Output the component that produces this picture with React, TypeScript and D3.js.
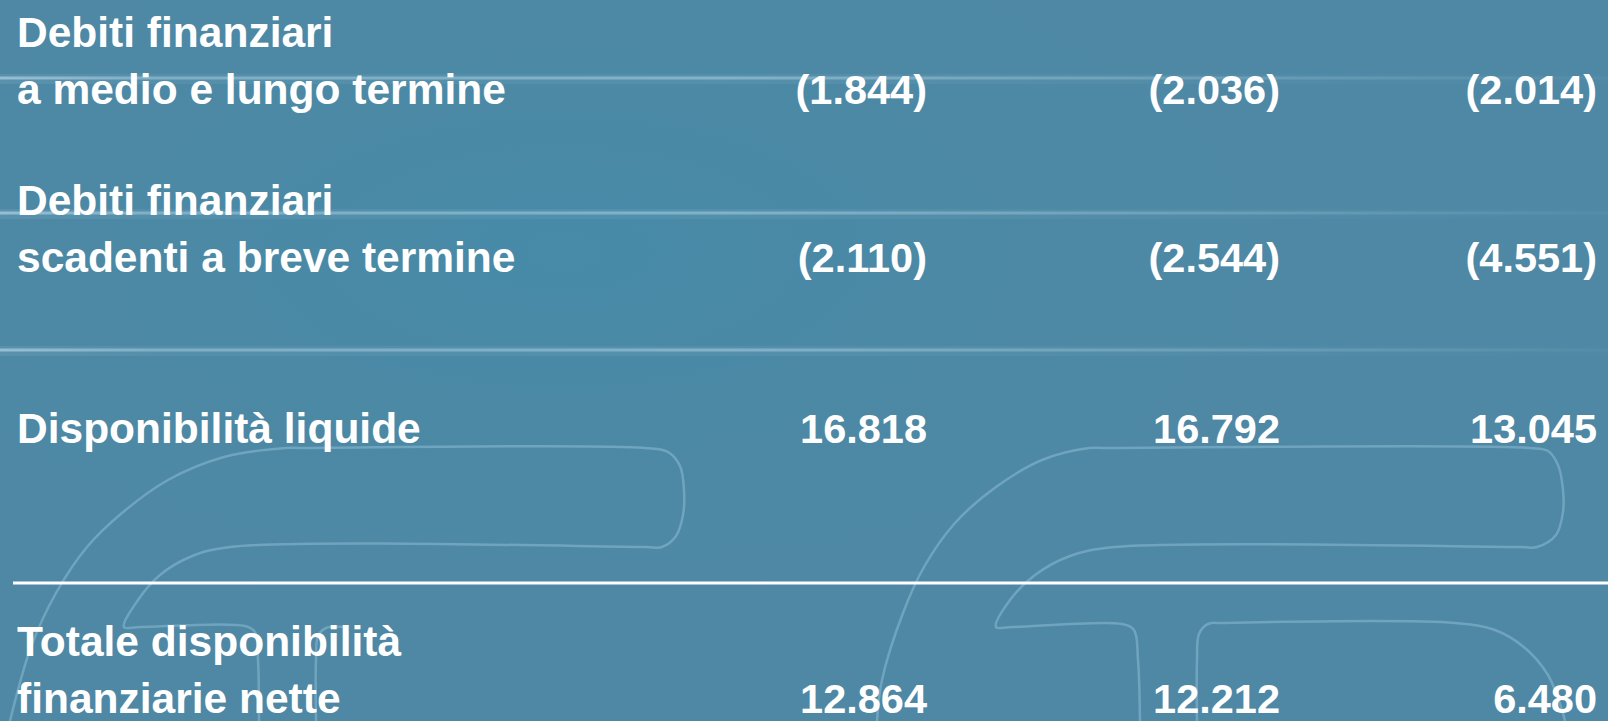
import React, { useEffect, useRef } from 'react'
import { select, scaleOrdinal, formatLocale, line, curveCatmullRom, Selection } from 'd3'

// rows of the table (label lines) and the three value columns
const ROW_LABELS: string[][] = [
  ['Debiti finanziari', 'a medio e lungo termine'],
  ['Debiti finanziari', 'scadenti a breve termine'],
  ['Disponibilità liquide'],
  ['Totale disponibilità', 'finanziarie nette'],
]
const COLUMNS = ['col1', 'col2', 'col3']
const COL1_VALUES = [-1844, -2110, 16818, 12864]
const COL2_VALUES = [-2036, -2544, 16792, 12212]
const COL3_VALUES = [-2014, -4551, 13045, 6480]

const WIDTH = 1608
const HEIGHT = 721
const BG = '#4e88a4'
const LINE_H = 57

const itLocale = formatLocale({ decimal: ',', thousands: '.', grouping: [3], currency: ['€', ''] })
const fmt = itLocale.format('(,')

type Pt = [number, number]

// decorative logo outlines in the background
const LOGO_PATHS: Pt[][] = [
  [
    [10, 721], [31, 647], [56, 593], [87, 547], [122, 513], [168, 480], [224, 457], [286, 448], [300, 448],
    [645, 448], [668, 452], [680, 466], [684, 490], [683, 515], [676, 536], [662, 547], [645, 547],
    [230, 547], [190, 557], [160, 575], [138, 600], [124, 627], [140, 627], [245, 626], [255, 632], [258, 660], [259, 721],
  ],
  [[316, 721], [316, 660], [318, 636], [326, 628], [345, 627]],
  [
    [877, 721], [882, 680], [903, 613], [924, 567], [955, 523], [996, 487], [1042, 460], [1089, 448], [1105, 448],
    [1530, 448], [1548, 451], [1558, 465], [1563, 490], [1563, 512], [1556, 535], [1537, 547], [1520, 547],
    [1115, 547], [1070, 556], [1035, 575], [1010, 600], [996, 627], [1012, 627], [1122, 624], [1134, 630], [1138, 660], [1140, 721],
  ],
  [
    [1197, 721], [1197, 660], [1199, 634], [1208, 624], [1225, 623], [1455, 623], [1495, 630], [1525, 648], [1548, 675], [1562, 710], [1565, 721],
  ],
]

const STREAK_YS = [78, 213, 350]

export default function App(): JSX.Element {
  const svgRef = useRef<SVGSVGElement | null>(null)

  function drawBackground(svg: Selection<SVGSVGElement | null, any, null, undefined>): void {
    const defs = svg.append('defs')

    const glow = defs
      .append('radialGradient')
      .attr('id', 'bgGlow')
      .attr('cx', 0.35)
      .attr('cy', 0.35)
      .attr('r', 0.55)
    glow.append('stop').attr('offset', 0).attr('stop-color', '#458ba8').attr('stop-opacity', 0.9)
    glow.append('stop').attr('offset', 1).attr('stop-color', BG).attr('stop-opacity', 0)

    const streak = defs.append('linearGradient').attr('id', 'streak')
    streak.append('stop').attr('offset', 0).attr('stop-color', '#a9cde0').attr('stop-opacity', 0.75)
    streak.append('stop').attr('offset', 0.1).attr('stop-color', '#a9cde0').attr('stop-opacity', 0.5)
    streak.append('stop').attr('offset', 0.45).attr('stop-color', '#a9cde0').attr('stop-opacity', 0.55)
    streak.append('stop').attr('offset', 0.8).attr('stop-color', '#a9cde0').attr('stop-opacity', 0.25)
    streak.append('stop').attr('offset', 1).attr('stop-color', '#a9cde0').attr('stop-opacity', 0.05)

    svg.append('rect').attr('width', WIDTH).attr('height', HEIGHT).attr('fill', BG)
    svg.append('rect').attr('width', WIDTH).attr('height', HEIGHT).attr('fill', 'url(#bgGlow)')

    const g = svg.append('g').attr('class', 'streaks')
    g.selectAll('rect.soft')
      .data(STREAK_YS)
      .join('rect')
      .attr('class', 'soft')
      .attr('x', 0)
      .attr('y', (d) => d - 4)
      .attr('width', WIDTH)
      .attr('height', 10)
      .attr('fill', 'url(#streak)')
      .attr('opacity', 0.18)
    g.selectAll('rect.hard')
      .data(STREAK_YS)
      .join('rect')
      .attr('class', 'hard')
      .attr('x', 0)
      .attr('y', (d) => d - 1.5)
      .attr('width', WIDTH)
      .attr('height', 3)
      .attr('fill', 'url(#streak)')

    const lineFn = line<Pt>()
      .x((d) => d[0])
      .y((d) => d[1])
      .curve(curveCatmullRom.alpha(0.5))

    svg
      .append('g')
      .attr('class', 'logo')
      .selectAll('path')
      .data(LOGO_PATHS)
      .join('path')
      .attr('d', (d) => lineFn(d))
      .attr('fill', 'none')
      .attr('stroke', '#8dbcd3')
      .attr('stroke-opacity', 0.55)
      .attr('stroke-width', 2.5)
  }

  function drawTable(svg: Selection<SVGSVGElement | null, any, null, undefined>): void {
    const rowIdx = ROW_LABELS.map((_d, i) => i)

    // baseline of first label line for each row
    const yScale = scaleOrdinal<number, number>().domain(rowIdx).range([47, 215, 443, 656])
    // right edge of each value column
    const xScale = scaleOrdinal<string, number>().domain(COLUMNS).range([927, 1280, 1597])

    const g = svg
      .append('g')
      .attr('class', 'table')
      .attr('fill', '#ffffff')
      .attr('font-family', '"Liberation Sans", Arial, Helvetica, sans-serif')
      .attr('font-weight', 'bold')

    const rows = g
      .selectAll('g.row')
      .data(rowIdx)
      .join('g')
      .attr('class', 'row')

    rows
      .selectAll('text.label')
      .data((i) => ROW_LABELS[i].map((t, j) => ({ t, y: yScale(i) + j * LINE_H })))
      .join('text')
      .attr('class', 'label')
      .attr('x', 17)
      .attr('y', (d) => d.y)
      .attr('font-size', 42.5)
      .text((d) => d.t)

    const cols = [COL1_VALUES, COL2_VALUES, COL3_VALUES]
    rows
      .selectAll('text.value')
      .data((i) =>
        COLUMNS.map((c, k) => ({
          c,
          v: cols[k][i],
          y: yScale(i) + (ROW_LABELS[i].length - 1) * LINE_H,
        })),
      )
      .join('text')
      .attr('class', 'value')
      .attr('x', (d) => xScale(d.c))
      .attr('y', (d) => d.y)
      .attr('text-anchor', 'end')
      .attr('font-size', 41.5)
      .text((d) => fmt(d.v))

    // total separator
    g.append('rect').attr('x', 13).attr('y', 581.5).attr('width', WIDTH - 13).attr('height', 3)
  }

  useEffect(() => {
    const svg: Selection<SVGSVGElement | null, any, null, undefined> = select(svgRef.current)
    svg.selectAll('*').remove()
    drawBackground(svg)
    drawTable(svg)
  }, [])

  return (
    <div style={{ position: 'absolute', left: 0, top: 0 }}>
      <svg ref={svgRef} width={WIDTH} height={HEIGHT} xmlns="http://www.w3.org/2000/svg" style={{ display: 'block' }} />
    </div>
  )
}
